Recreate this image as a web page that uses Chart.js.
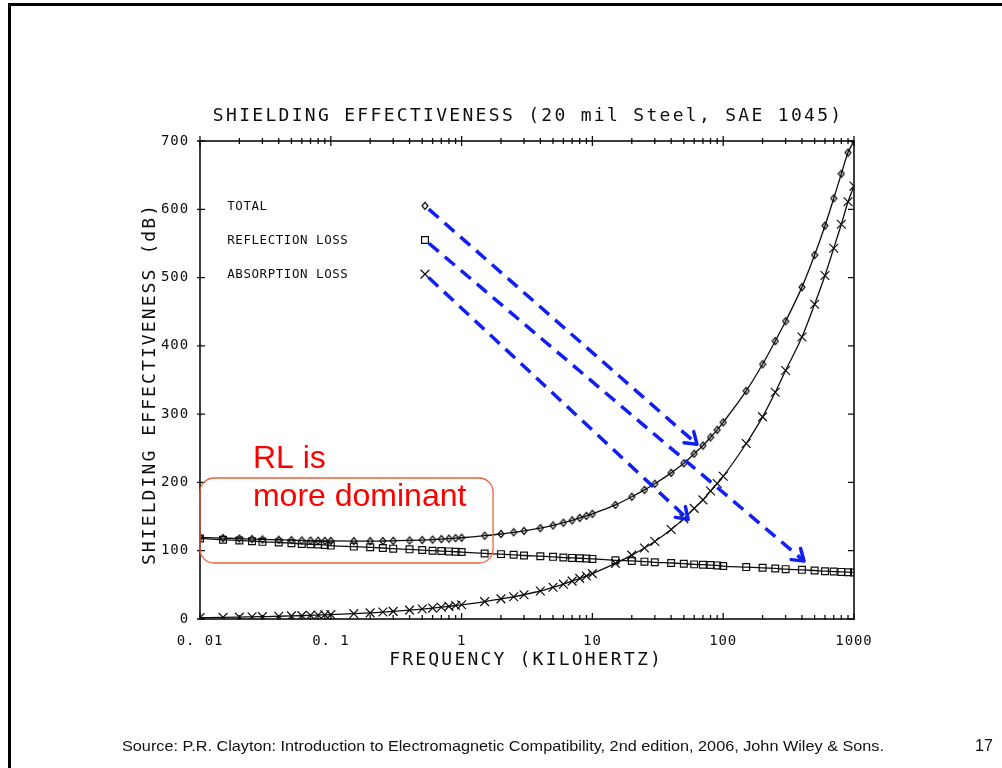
<!DOCTYPE html>
<html>
<head>
<meta charset="utf-8">
<title>Shielding effectiveness</title>
<script src="https://cdn.jsdelivr.net/npm/chart.js@4.4.1/dist/chart.umd.min.js"></script>
<style>
    html, body { margin: 0; padding: 0; background: #fff; }
    body { width: 1002px; height: 768px; position: relative; overflow: hidden; font-family: "Liberation Sans", Arial, sans-serif; }
    #frame { position: absolute; left: 8px; top: 3px; width: 1010px; height: 790px; border-top: 3px solid #000; border-left: 3px solid #000; }
    #chart { position: absolute; left: 0; top: 0; }
    .source { position: absolute; left: 122px; top: 737px; font-size: 15px; color: #111; white-space: nowrap; transform-origin: 0 0; }
    .page-no { position: absolute; left: 975px; top: 737px; font-size: 16px; color: #111; }
</style>
</head>
<body>
<div id="frame"></div>
<canvas id="chart" width="1002" height="768"></canvas>
<div class="source" id="source">Source: P.R. Clayton: Introduction to Electromagnetic Compatibility, 2nd edition, 2006, John Wiley &amp; Sons.</div>
<div class="page-no">17</div>
<script>
// frequency in kHz, shielding in dB
const freq_khz = [
    0.01, 0.015, 0.02, 0.025, 0.03, 0.04, 0.05, 0.06, 0.07, 0.08, 0.09,
    0.1, 0.15, 0.2, 0.25, 0.3, 0.4, 0.5, 0.6, 0.7, 0.8, 0.9,
    1, 1.5, 2, 2.5, 3, 4, 5, 6, 7, 8, 9,
    10, 15, 20, 25, 30, 40, 50, 60, 70, 80, 90,
    100, 150, 200, 250, 300, 400, 500, 600, 700, 800, 900, 1000
];
const total_db = [
    119.5, 118.5, 117.8, 117, 116.5, 116, 115.5, 115, 114.8, 114.6, 114.5,
    114.3, 114, 114, 114.2, 114.5, 115, 115.6, 116.3, 117, 117.7, 118.4,
    119, 122, 124.5, 127, 129, 133, 137, 141, 144.5, 148, 151,
    154, 167, 179, 189, 198, 214, 228, 242, 254, 266, 277,
    288, 334, 373, 407, 436, 486, 533, 576, 616, 652, 683, 700
];
const reflection_db = [
    118, 116, 115, 114, 113, 112, 111, 110, 109.5, 109, 108.5,
    107.5, 106, 105, 104, 103, 102, 101, 100, 99.5, 99, 98.5,
    98, 96, 95, 94, 93, 92, 91, 90, 89.5, 89, 88.5,
    88, 86, 85, 84, 83, 82, 81, 80, 79.5, 79, 78.5,
    77.5, 76, 75, 74, 73, 72, 71, 70, 69.5, 69, 68.5, 68
];
const absorption_db = [
    2, 2.4, 2.8, 3.2, 3.5, 4, 4.5, 5, 5.4, 5.8, 6.1,
    6.4, 7.8, 9, 10.2, 11.2, 13, 14.6, 16, 17.3, 18.5, 19.7,
    20.8, 25.5, 29.5, 32.5, 35.5, 41, 46.5, 51, 55.5, 59.5, 63,
    66.5, 81.5, 93.5, 104, 113.5, 131, 147, 162, 174.5, 187.5, 198.5,
    209, 257, 296, 332, 364, 413, 461, 503, 543, 578, 611, 634
];

const x_ticks = [0.01, 0.1, 1, 10, 100, 1000];
const x_tick_labels = ['0. 01', '0. 1', '1', '10', '100', '1000'];
const x_minor_steps = [2, 3, 4, 5, 6, 7, 8, 9];
const y_ticks = [0, 100, 200, 300, 400, 500, 600, 700];

const legend_names = ['TOTAL', 'REFLECTION LOSS', 'ABSORPTION LOSS'];
const legend_key_khz = 0.525;
const legend_key_db = [605, 555, 505];

// slide annotations, in data units
const arrows = [
    { from: [0.525, 605], to: [63, 256] },
    { from: [0.525, 555], to: [415, 85] },
    { from: [0.525, 505], to: [54, 146] },
];
const note_box = { khz: [0.01, 1.74], db: [82, 206.5] };
const note_lines = [
    { text: 'RL is', khz: 0.0254, db: 221 },
    { text: 'more dominant', khz: 0.0254, db: 165.5 },
];

const ink = '#0e0e0e';
const mono = '"DejaVu Sans Mono", monospace';

const diamondImg = () => {
    const c = document.createElement('canvas');
    c.width = 8;
    c.height = 10;
    const g = c.getContext('2d');
    g.strokeStyle = ink;
    g.lineWidth = 1.2;
    g.beginPath();
    g.moveTo(4, 1.5);
    g.lineTo(7, 5);
    g.lineTo(4, 8.5);
    g.lineTo(1, 5);
    g.closePath();
    g.stroke();
    return c;
};
const diamond = diamondImg();

const seriesStyle = [
    { style: diamond, radius: 4 },
    { style: 'rect', radius: 4.8 },
    { style: 'crossRot', radius: 6.2 },
];
const seriesValues = [total_db, reflection_db, absorption_db];

const curveSets = seriesValues.map((vals, i) => ({
    label: legend_names[i],
    data: freq_khz.map((f, k) => ({ x: f, y: vals[k] })),
    borderColor: ink,
    borderWidth: 1.3,
    cubicInterpolationMode: 'monotone',
    pointStyle: seriesStyle[i].style,
    pointRadius: seriesStyle[i].radius,
    pointBorderColor: ink,
    pointBorderWidth: 1.2,
    pointBackgroundColor: 'rgba(0,0,0,0)',
}));

const keySets = legend_key_db.map((db, i) => ({
    label: legend_names[i] + ' key',
    data: [{ x: legend_key_khz, y: db }],
    showLine: false,
    pointStyle: seriesStyle[i].style,
    pointRadius: seriesStyle[i].radius,
    pointBorderColor: ink,
    pointBorderWidth: 1.2,
    pointBackgroundColor: 'rgba(0,0,0,0)',
}));

const spaced = (ctx, text, x, y, spacing) => {
    ctx.letterSpacing = spacing + 'px';
    ctx.fillText(text, x + spacing / 2, y);
};

const drawArrow = (ctx, x0, y0, x1, y1) => {
    const ang = Math.atan2(y1 - y0, x1 - x0);
    const sx = x0 + Math.cos(ang) * 5, sy = y0 + Math.sin(ang) * 5;
    ctx.save();
    ctx.strokeStyle = '#1020f0';
    ctx.lineWidth = 3.5;
    ctx.setLineDash([13, 8]);
    ctx.beginPath();
    ctx.moveTo(sx, sy);
    ctx.lineTo(x1 - Math.cos(ang) * 2, y1 - Math.sin(ang) * 2);
    ctx.stroke();
    ctx.setLineDash([]);
    ctx.lineCap = 'round';
    ctx.beginPath();
    [-0.6, 0.6].forEach(d => {
        ctx.moveTo(x1, y1);
        ctx.lineTo(x1 - Math.cos(ang + d) * 13, y1 - Math.sin(ang + d) * 13);
    });
    ctx.stroke();
    ctx.restore();
};

const scanPlugin = {
    id: 'scan',
    beforeDraw(chart) {
        chart.ctx.letterSpacing = '0.9px';
    },
    afterDraw(chart) {
        const ctx = chart.ctx;
        const a = chart.chartArea;
        const xs = chart.scales.x, ys = chart.scales.y;

        ctx.save();
        // plot frame
        ctx.strokeStyle = ink;
        ctx.lineWidth = 1.6;
        ctx.strokeRect(a.left, a.top, a.right - a.left, a.bottom - a.top);

        // tick marks
        ctx.lineWidth = 1.3;
        ctx.beginPath();
        x_ticks.forEach((d, i) => {
            const steps = i < x_ticks.length - 1 ? [1, ...x_minor_steps] : [1];
            steps.forEach(s => {
                const px = xs.getPixelForValue(d * s);
                const big = s === 1 ? 2 : 0;
                ctx.moveTo(px, a.top - 3 - big);
                ctx.lineTo(px, a.top + 3 + big);
                ctx.moveTo(px, a.bottom + 1);
                ctx.lineTo(px, a.bottom - 4 - big);
            });
        });
        y_ticks.forEach(v => {
            const py = ys.getPixelForValue(v);
            ctx.moveTo(a.left - 3, py);
            ctx.lineTo(a.left + 5, py);
            ctx.moveTo(a.right, py);
            ctx.lineTo(a.right - 6, py);
        });
        ctx.stroke();

        // titles
        ctx.fillStyle = ink;
        ctx.textAlign = 'center';
        ctx.textBaseline = 'middle';
        ctx.font = '18px ' + mono;
        const cx = (a.left + a.right) / 2;
        spaced(ctx, 'SHIELDING EFFECTIVENESS (20 mil Steel, SAE 1045)', cx, 116, 2.3);
        spaced(ctx, 'FREQUENCY (KILOHERTZ)', cx - 2, 660, 2.2);
        ctx.save();
        ctx.translate(150, (a.top + a.bottom) / 2 + 5);
        ctx.rotate(-Math.PI / 2);
        spaced(ctx, 'SHIELDING EFFECTIVENESS (dB)', 0, 0, 2.1);
        ctx.restore();

        // legend labels beside the key markers
        ctx.textAlign = 'left';
        ctx.font = '12.5px ' + mono;
        legend_names.forEach((name, i) => {
            spaced(ctx, name, a.left + 27, ys.getPixelForValue(legend_key_db[i]) + 1, 0.55);
        });

        // slide annotations
        arrows.forEach(ar => {
            drawArrow(ctx,
                xs.getPixelForValue(ar.from[0]), ys.getPixelForValue(ar.from[1]),
                xs.getPixelForValue(ar.to[0]), ys.getPixelForValue(ar.to[1]));
        });

        const bx0 = xs.getPixelForValue(note_box.khz[0]), bx1 = xs.getPixelForValue(note_box.khz[1]);
        const by0 = ys.getPixelForValue(note_box.db[1]), by1 = ys.getPixelForValue(note_box.db[0]);
        ctx.strokeStyle = '#f0603c';
        ctx.lineWidth = 1.3;
        ctx.beginPath();
        ctx.roundRect(bx0, by0, bx1 - bx0, by1 - by0, 14);
        ctx.stroke();

        ctx.letterSpacing = '0px';
        ctx.fillStyle = '#ff0000';
        ctx.font = '32px "Liberation Sans", Arial, sans-serif';
        ctx.textBaseline = 'alphabetic';
        note_lines.forEach(n => {
            ctx.fillText(n.text, xs.getPixelForValue(n.khz), ys.getPixelForValue(n.db));
        });
        ctx.restore();
    }
};

new Chart(document.getElementById('chart'), {
    type: 'line',
    data: { datasets: [...curveSets, ...keySets] },
    options: {
        responsive: false,
        animation: false,
        devicePixelRatio: 1,
        events: [],
        layout: { padding: { top: 141, right: 148, left: 0, bottom: 0 } },
        plugins: { legend: { display: false }, tooltip: { enabled: false }, title: { display: false } },
        scales: {
            x: {
                type: 'logarithmic',
                min: 0.01,
                max: 1000,
                grid: { display: false },
                border: { display: false },
                afterBuildTicks: s => { s.ticks = x_ticks.map(v => ({ value: v })); },
                afterFit: s => { s.height = 149; },
                ticks: {
                    autoSkip: false,
                    maxRotation: 0,
                    padding: 6,
                    color: ink,
                    font: { family: mono, size: 14 },
                    callback: v => {
                        const i = x_ticks.indexOf(v);
                        return i >= 0 ? x_tick_labels[i] : '';
                    }
                }
            },
            y: {
                min: 0,
                max: 700,
                grid: { display: false },
                border: { display: false },
                afterBuildTicks: s => { s.ticks = y_ticks.map(v => ({ value: v })); },
                afterFit: s => { s.width = 200; },
                ticks: { padding: 3, color: ink, font: { family: mono, size: 14 } }
            }
        }
    },
    plugins: [scanPlugin]
});

// stretch the credit line to the width it has on the slide
const src = document.getElementById('source');
src.style.transform = `scaleX(${762 / src.getBoundingClientRect().width})`;
</script>
</body>
</html>
